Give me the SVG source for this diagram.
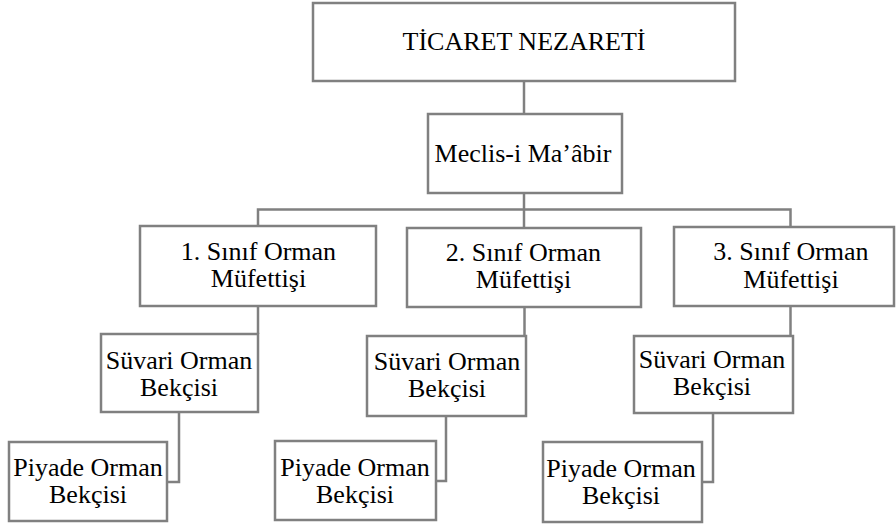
<svg xmlns="http://www.w3.org/2000/svg" width="896" height="527" viewBox="0 0 896 527">
<style>
.box{fill:#fff;stroke:#808080;stroke-width:2.5}
.ln{fill:none;stroke:#808080;stroke-width:2.5}
text{font-family:"Liberation Serif","Times New Roman",serif;font-size:26px;fill:#000;text-anchor:middle}
</style>
<rect width="896" height="527" fill="#fff"/>
<g id="connectors">
<line class="ln" x1="524" y1="81" x2="524" y2="114"/>
<line class="ln" x1="524" y1="193" x2="524" y2="228"/>
<polyline class="ln" points="258,226 258,209.5 790.5,209.5 790.5,227"/>
<polyline class="ln" points="258,306 258,334"/>
<polyline class="ln" points="524.5,307 524.5,336"/>
<polyline class="ln" points="790.5,306 790.5,336"/>
<polyline class="ln" points="179,412 179,482 167,482"/>
<polyline class="ln" points="446,416 446,481 436,481"/>
<polyline class="ln" points="713,413 713,482 702,482"/>
</g>
<g id="ticaret"><rect class="box" x="313" y="3" width="422" height="78"/><text x="524" y="50">TİCARET NEZARETİ</text></g>
<g id="meclis"><rect class="box" x="428" y="114" width="194" height="79"/><text x="523" y="162">Meclis-i Ma’âbir</text></g>
<g id="mufettis1"><rect class="box" x="140" y="226" width="236" height="80"/><text x="258.5" y="260">1. Sınıf Orman<tspan x="258.5" dy="27">Müfettişi</tspan></text></g>
<g id="mufettis2"><rect class="box" x="407" y="228" width="234" height="79"/><text x="523.5" y="261">2. Sınıf Orman<tspan x="523.5" dy="27">Müfettişi</tspan></text></g>
<g id="mufettis3"><rect class="box" x="674" y="227" width="220" height="79"/><text x="791" y="260">3. Sınıf Orman<tspan x="791" dy="27.5">Müfettişi</tspan></text></g>
<g id="suvari1"><rect class="box" x="101" y="334" width="157" height="78"/><text x="179" y="368.5">Süvari Orman<tspan x="179" dy="27">Bekçisi</tspan></text></g>
<g id="suvari2"><rect class="box" x="367" y="336" width="159" height="80"/><text x="447" y="369.5">Süvari Orman<tspan x="447" dy="27">Bekçisi</tspan></text></g>
<g id="suvari3"><rect class="box" x="634" y="336" width="159" height="77"/><text x="712" y="368">Süvari Orman<tspan x="712" dy="27">Bekçisi</tspan></text></g>
<g id="piyade1"><rect class="box" x="9" y="442" width="158" height="79"/><text x="88" y="476">Piyade Orman<tspan x="88" dy="27">Bekçisi</tspan></text></g>
<g id="piyade2"><rect class="box" x="275" y="441" width="161" height="79"/><text x="355" y="475.5">Piyade Orman<tspan x="355" dy="27">Bekçisi</tspan></text></g>
<g id="piyade3"><rect class="box" x="543" y="442" width="159" height="80"/><text x="621" y="476.5">Piyade Orman<tspan x="621" dy="27">Bekçisi</tspan></text></g>
</svg>
